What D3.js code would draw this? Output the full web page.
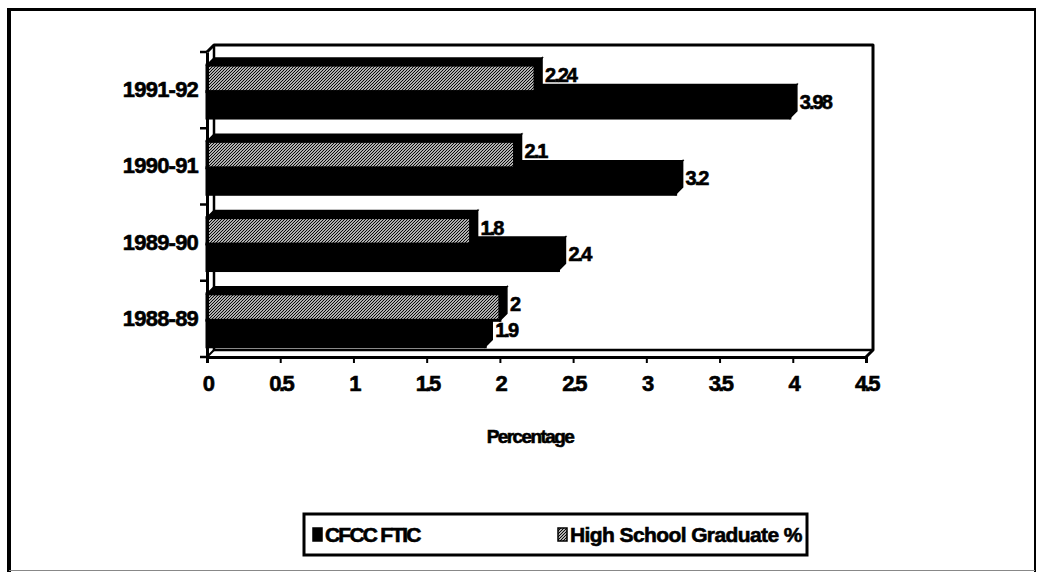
<!DOCTYPE html>
<html>
<head>
<meta charset="utf-8">
<script src="https://cdn.jsdelivr.net/npm/d3@7"></script>
<style>
  html, body { margin: 0; padding: 0; background: #fff; }
  svg { display: block; font-family: "Liberation Sans", Arial, sans-serif; font-weight: bold; }
  svg text { stroke: #000; stroke-width: 0.6px; fill: #000; }
</style>
</head>
<body>
<svg id="chart" width="1039" height="572"></svg>
<script>
// ---- data ----
const categories = ["1991-92", "1990-91", "1989-90", "1988-89"];
const seriesNames = ["High School Graduate %", "CFCC FTIC"];
const hsValues = [2.24, 2.1, 1.8, 2];
const cfccValues = [3.98, 3.2, 2.4, 1.9];
const xTicks = [0, 0.5, 1, 1.5, 2, 2.5, 3, 3.5, 4, 4.5];
const legendLabels = ["CFCC FTIC", "High School Graduate %"];
const axisTitle = "Percentage";

// ---- layout ----
const plot = { left: 207, right: 866, top: 52, bottom: 357 };
const depth = { dx: 7, dy: -7 };
const fontStack = "Liberation Sans, Arial, sans-serif";

const svg = d3.select("#chart");

// fine diagonal hatch for the high school series
const defs = svg.append("defs");
const pat = defs.append("pattern")
  .attr("id", "hatch")
  .attr("patternUnits", "userSpaceOnUse")
  .attr("width", 3).attr("height", 3);
pat.append("rect").attr("width", 3).attr("height", 3).attr("fill", "#fff");
pat.append("path")
  .attr("d", "M-1,1 l2,-2 M0,3 l3,-3 M2,4 l2,-2")
  .attr("stroke", "#000").attr("stroke-width", 1.2);

const fills = { "High School Graduate %": "url(#hatch)", "CFCC FTIC": "#000" };

// scales
const x = d3.scaleLinear().domain([0, 4.5]).range([plot.left, plot.right]);
const y = d3.scaleBand().domain(categories).range([plot.top, plot.bottom]);
const bw = y.bandwidth();
const ys = d3.scaleBand().domain(seriesNames).range([bw * 0.172, bw * 0.866]);

// outer frame
const frame = svg.append("g");
frame.append("line").attr("x1", 9).attr("y1", 8).attr("x2", 9).attr("y2", 572)
  .attr("stroke", "#000").attr("stroke-width", 4);
frame.append("line").attr("x1", 7).attr("y1", 9.5).attr("x2", 1035).attr("y2", 9.5)
  .attr("stroke", "#000").attr("stroke-width", 3);
frame.append("line").attr("x1", 1035).attr("y1", 8).attr("x2", 1035).attr("y2", 572)
  .attr("stroke", "#000").attr("stroke-width", 2);
frame.append("line").attr("x1", 9).attr("y1", 570.5).attr("x2", 1035).attr("y2", 570.5)
  .attr("stroke", "#888").attr("stroke-width", 1);

// 3D walls and floor
const walls = svg.append("g").attr("fill", "none").attr("stroke", "#000").attr("stroke-width", 3)
  .attr("stroke-linejoin", "round");
const bl = plot.left + depth.dx, br = plot.right + depth.dx;
const bt = plot.top + depth.dy, bb = plot.bottom + depth.dy;
walls.append("path").attr("d",
  `M${plot.left},${plot.top} L${bl},${bt} L${br},${bt} L${br},${bb} L${plot.right},${plot.bottom}`);
walls.append("path").attr("d", `M${bl},${bt} L${bl},${bb} L${br},${bb}`).attr("stroke-width", 2.5);
walls.append("path").attr("d", `M${plot.left},${plot.bottom} L${bl},${bb}`).attr("stroke-width", 2);

// bars: lower series first so the upper bar's face covers its top
const rows = [];
categories.forEach((c, i) => {
  rows.push({ cat: c, series: "CFCC FTIC", value: cfccValues[i] });
  rows.push({ cat: c, series: "High School Graduate %", value: hsValues[i] });
});

const bars = svg.append("g");
bars.selectAll("g.bar").data(rows).join("g").attr("class", "bar").each(function (d) {
  const g = d3.select(this);
  const x0 = x(0), x1 = x(d.value);
  const y0 = y(d.cat) + ys(d.series), y1 = y0 + ys.bandwidth();
  const { dx, dy } = depth;
  g.append("path")
    .attr("d", `M${x0},${y0} L${x0 + dx},${y0 + dy} L${x1 + dx},${y0 + dy} L${x1},${y0} Z`)
    .attr("fill", "#000").attr("stroke", "#000").attr("stroke-width", 1.5);
  g.append("path")
    .attr("d", `M${x1},${y0} L${x1 + dx},${y0 + dy} L${x1 + dx},${y1 + dy} L${x1},${y1} Z`)
    .attr("fill", "#000").attr("stroke", "#000").attr("stroke-width", 1.5);
  g.append("rect")
    .attr("x", x0).attr("y", y0).attr("width", x1 - x0).attr("height", y1 - y0)
    .attr("fill", fills[d.series]).attr("stroke", "#000").attr("stroke-width", 3);
});

// value labels
bars.selectAll("text.val").data(rows).join("text").attr("class", "val")
  .attr("x", d => x(d.value) + depth.dx + 3)
  .attr("y", d => y(d.cat) + ys(d.series) + ys.bandwidth() / 2 + depth.dy / 2)
  .attr("dy", "0.36em")
  .attr("font-size", 20).attr("letter-spacing", -2)
  .text(d => d.value);

// x axis
const xAxis = svg.append("g").attr("transform", `translate(0,${plot.bottom})`)
  .call(d3.axisBottom(x).tickValues(xTicks).tickSize(6).tickPadding(12).tickFormat(d3.format("")));
xAxis.select(".domain").attr("stroke-width", 3);
xAxis.selectAll(".tick line").attr("stroke-width", 2);
xAxis.selectAll(".tick text").attr("font-size", 22).attr("letter-spacing", -2.6)
  .attr("font-family", fontStack).attr("font-weight", "bold");

// y axis: labels centred on categories, ticks between them
const yAxis = svg.append("g").attr("transform", `translate(${plot.left},0)`)
  .call(d3.axisLeft(y).tickSize(0).tickPadding(9));
yAxis.select(".domain").attr("stroke-width", 3);
yAxis.selectAll(".tick text").attr("font-size", 22).attr("letter-spacing", -0.8)
  .attr("font-family", fontStack).attr("font-weight", "bold");
const yTickPos = categories.map(c => y(c)).concat([plot.bottom]);
svg.append("g").selectAll("line").data(yTickPos).join("line")
  .attr("x1", plot.left - 7).attr("x2", plot.left).attr("y1", d => d).attr("y2", d => d)
  .attr("stroke", "#000").attr("stroke-width", 2.5);

// axis title
svg.append("text").attr("x", 530).attr("y", 443)
  .attr("text-anchor", "middle").attr("font-size", 19).attr("letter-spacing", -1.6)
  .text(axisTitle);

// legend
const legend = svg.append("g");
legend.append("rect").attr("x", 304).attr("y", 514).attr("width", 503).attr("height", 41)
  .attr("fill", "#fff").attr("stroke", "#000").attr("stroke-width", 3);
const legendFills = ["#000", "url(#hatch)"];
const legendX = [313, 558];
const legendSpacing = [-1.8, -0.6];
legendLabels.forEach((t, i) => {
  legend.append("rect").attr("x", legendX[i]).attr("y", 528).attr("width", 9).attr("height", 13)
    .attr("fill", legendFills[i]).attr("stroke", "#000").attr("stroke-width", 1.5);
  legend.append("text").attr("x", legendX[i] + 12).attr("y", 542)
    .attr("font-size", 21).attr("letter-spacing", legendSpacing[i]).text(t);
});
</script>
</body>
</html>
